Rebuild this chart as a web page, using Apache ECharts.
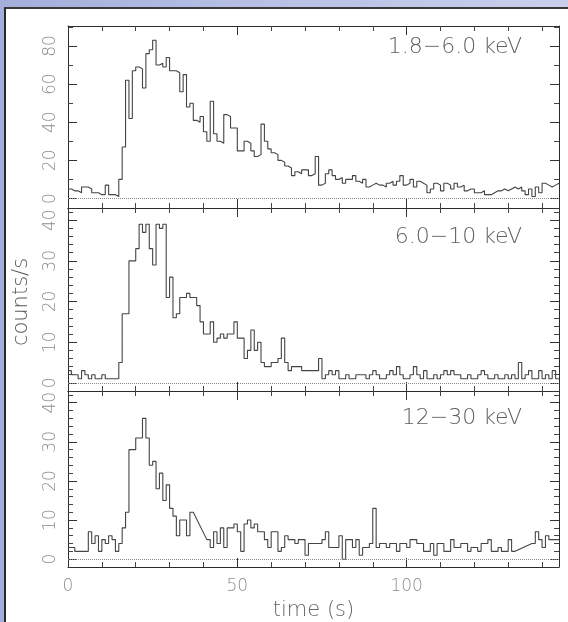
<!DOCTYPE html>
<html>
<head>
<meta charset="utf-8">
<script src="https://cdn.jsdelivr.net/npm/echarts@6/dist/echarts.min.js"></script>
<style>
  html, body { margin: 0; padding: 0; }
  body { width: 568px; height: 622px; position: relative; overflow: hidden;
         background: linear-gradient(90deg, #a3aedb 0%, #b9c1e6 50%, #c9cfeb 100%); }
  #paper { position: absolute; left: 4px; top: 7px; width: 566px; height: 613px;
           background: #fff; border-left: 2px solid #2a2a2a; border-top: 2px solid #3a3a3a; }
  #chart { position: absolute; left: 0; top: 0; width: 568px; height: 622px; }
</style>
</head>
<body>
<div id="paper"></div>
<div id="chart"></div>
<script>
// ---- data (1 s bins starting at t = 0 s) ----
const BIN = 1;
const bandLabels = ['1.8\u22126.0 keV', '6.0\u221210 keV', '12\u221230 keV'];
const xTicks = [0, 50, 100];

const band1 = [5,4,4,3,6,6,5,3,3,2, 2,7,2,2,1,10,27,62,42,67,
  69,68,58,76,78,83,70,71,69,74, 67,67,66,56,65,48,50,41,40,43,
  35,30,51,34,30,29,44,43,37,37, 25,25,30,29,25,22,23,39,30,26,
  24,23,20,19,17,16,12,14,13,15, 15,12,13,22,7,8,13,15,12,10,
  11,8,10,10,12,9,8,10,6,7, 8,7,7,6,8,9,7,9,12,7,
  8,10,6,9,8,7,3,5,8,7, 4,8,7,5,8,6,7,4,5,5,
  3,3,4,2,2,3,4,4,5,4, 5,6,5,6,4,2,5,1,6,3,
  8,7,6,7,8];

const band2 = [3,2,2,1,3,2,1,2,1,1, 2,1,1,1,1,5,17,17,30,30,
  33,39,37,39,33,29,39,38,39,21, 26,16,17,21,21,22,21,21,19,15,
  12,12,15,10,11,12,11,12,12,15, 11,11,6,8,13,8,10,5,4,4,
  5,5,6,11,5,3,4,4,4,3, 3,3,3,3,6,1,2,3,2,3,
  1,1,2,1,1,2,2,2,1,2, 3,2,1,1,2,3,2,4,2,1,
  1,2,4,2,1,3,1,1,2,1, 2,3,2,3,2,2,1,1,2,1,
  1,2,3,2,1,1,2,1,1,2, 1,2,1,5,1,2,3,1,1,3,
  1,2,1,3,1];

const band3 = [3,3,2,2,2,2,7,4,6,2, 5,4,6,5,2,4,8,12,28,28,
  31,31,36,31,24,25,18,22,15,19, 13,11,6,10,10,6,12,null,null,null,
  null,5,3,7,4,8,3,8,8,9, 7,2,9,10,8,9,7,7,5,3,
  7,7,2,3,6,5,5,4,5,5, 1,4,4,4,4,5,7,3,3,3,
  6,0,5,5,3,5,1,3,3,4, 13,3,4,4,3,4,4,2,4,4,
  3,5,5,4,4,2,2,4,1,4, 4,2,2,5,3,3,4,4,2,3,
  3,2,4,4,5,2,2,3,2,2, 5,2,null,null,null,null,null,4,7,5,
  3,6,5,5,5];

const panels = [
  { vals: band1, min: -5, max: 90.5, minorSplit: 2 },
  { vals: band2, min: -2, max: 43,   minorSplit: 5 },
  { vals: band3, min: -2, max: 43,   minorSplit: 5 }
];

// step outline: horizontal segment per bin, gaps (null) are bridged by a straight line
function stepPoints(vals) {
  const pts = [];
  vals.forEach((v, i) => {
    if (v === null) return;
    pts.push([i * BIN, v], [(i + 1) * BIN, v]);
  });
  return pts;
}

const GRID_LEFT = 68, GRID_RIGHT = 9;
const gridTops = [26, 208, 391];
const gridHeights = [182, 183, 181];
const FONT = '"DejaVu Sans", sans-serif';

const axisLineStyle = { color: '#2b2b2b', width: 1 };
const tickFont = { color: '#8c8c8c', fontFamily: FONT, fontWeight: 200, fontSize: 17 };

const grids = [], xAxes = [], yAxes = [], series = [];
panels.forEach((p, k) => {
  grids.push({ left: GRID_LEFT, right: GRID_RIGHT, top: gridTops[k], height: gridHeights[k] });
  const isBottom = k === panels.length - 1;
  ['bottom', 'top'].forEach(pos => {
    const showLab = isBottom && pos === 'bottom';
    xAxes.push({
      type: 'value', gridIndex: k, position: pos, min: 0, max: 145, interval: 50,
      axisLine: { show: true, onZero: false, lineStyle: axisLineStyle },
      axisTick: { show: true, inside: true, length: 9, lineStyle: { color: '#333' } },
      minorTick: { show: true, splitNumber: 5, length: 5, lineStyle: { color: '#444' } },
      splitLine: { show: false },
      axisLabel: Object.assign({ show: showLab, margin: 11, showMaxLabel: false,
        formatter: v => (xTicks.indexOf(v) >= 0 ? String(v) : '') }, tickFont),
      name: showLab ? 'time (s)' : '',
      nameLocation: 'middle', nameGap: 33,
      nameTextStyle: { color: '#666', fontFamily: FONT, fontWeight: 200, fontSize: 21 }
    });
  });
  ['left', 'right'].forEach(pos => {
    const major = k === 0 ? 20 : 10;
    yAxes.push({
      type: 'value', gridIndex: k, position: pos, min: p.min, max: p.max,
      axisLine: { show: true, onZero: false, lineStyle: axisLineStyle },
      axisTick: { show: true, inside: true, length: 9, lineStyle: { color: '#333' } },
      minorTick: { show: true, splitNumber: p.minorSplit, length: 5, lineStyle: { color: '#444' } },
      splitLine: { show: false },
      axisLabel: Object.assign({ show: pos === 'left', rotate: 90, margin: 9,
        showMinLabel: false, showMaxLabel: false,
        formatter: v => (Math.abs(v % major) < 1e-9 && v >= 0 ? String(v) : '') }, tickFont)
    });
  });
  series.push({
    type: 'line', xAxisIndex: 2 * k, yAxisIndex: 2 * k,
    data: stepPoints(p.vals), showSymbol: false, symbol: 'none',
    lineStyle: { color: '#444', width: 1.1 }, animation: false,
    markLine: { silent: true, symbol: 'none', label: { show: false },
      lineStyle: { type: 'dotted', color: '#8a8a8a', width: 1 },
      data: [{ yAxis: 0 }] }
  });
});

const labelY = [47, 237, 418];
const graphics = bandLabels.map((t, k) => ({
  type: 'text', x: 522, y: labelY[k],
  style: { text: t, align: 'right', verticalAlign: 'middle', fill: '#606060',
           font: '200 22px ' + FONT }
}));
graphics.push({
  type: 'text', x: 22, y: 302, rotation: Math.PI / 2,
  style: { text: 'counts/s', align: 'center', verticalAlign: 'middle', fill: '#5a5a5a',
           font: '200 21px ' + FONT }
});

const chart = echarts.init(document.getElementById('chart'), null, { renderer: 'canvas' });
chart.setOption({
  animation: false,
  backgroundColor: 'transparent',
  grid: grids, xAxis: xAxes, yAxis: yAxes, series: series, graphic: graphics
});
</script>
</body>
</html>
